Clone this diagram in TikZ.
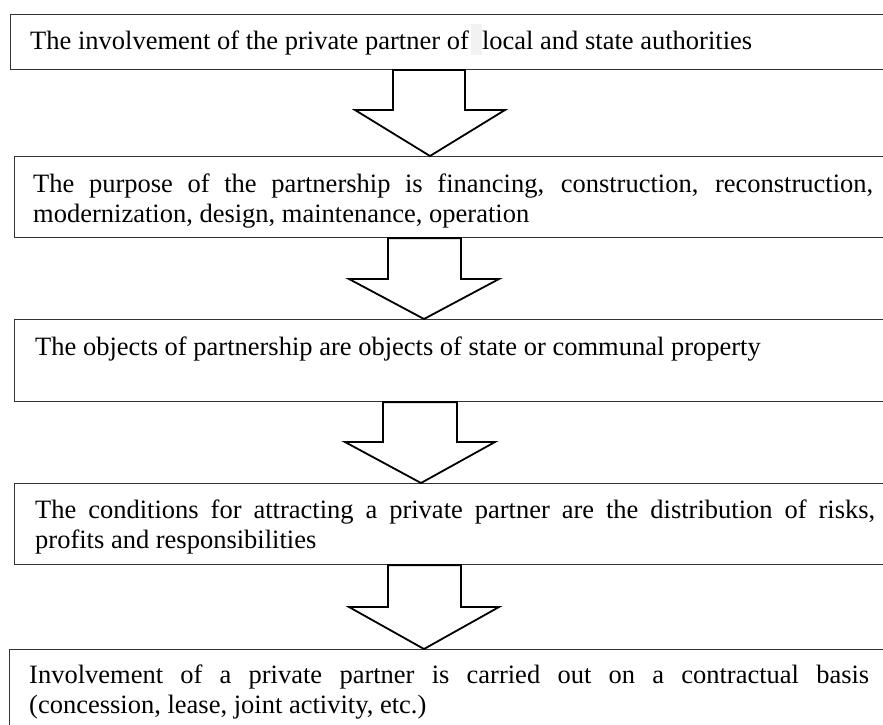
\documentclass[tikz,border=0pt]{standalone}
\usepackage{fontspec}
\setmainfont{Liberation Serif}
\hyphenpenalty=10000
\begin{document}
\begin{tikzpicture}[x=1pt,y=-1pt,
  stage/.style={draw=black!80, line width=1.1pt, inner sep=0pt, anchor=north west, minimum width=880pt},
  caption/.style={inner sep=0pt, anchor=base west, text width=840pt, align=justify,
    font=\fontsize{26.5}{30.5}\selectfont},
  blockarrow/.style={draw=black, line width=1.8pt, fill=white, line join=miter}]
\useasboundingbox (0,0) rectangle (883,725);
\clip (0,0) rectangle (883,725);

% stage frames
\node[stage, minimum height=55pt] (b1) at (10,14) {};
\node[stage, minimum height=81pt] (b2) at (14,156) {};
\node[stage, minimum height=82pt] (b3) at (14,319) {};
\node[stage, minimum height=81pt] (b4) at (14,483) {};
\node[stage, minimum height=95pt] (b5) at (9,649) {};

% highlighted blank in the first line
\fill[gray!10] (471,24) rectangle (482,55);

% stage texts
\node[caption] (t1) at (30,50) {The involvement of the private partner of~ local and state authorities};
\node[caption] (t2) at (33,192) {The purpose of the partnership is financing, construction, reconstruction,\linebreak modernization, design, maintenance, operation};
\node[caption] (t3) at (35,355) {The objects of partnership are objects of state or communal property};
\node[caption] (t4) at (35,518) {The conditions for attracting a private partner are the distribution of risks,\linebreak profits and responsibilities};
\node[caption] (t5) at (29,683) {Involvement of a private partner is carried out on a contractual basis\linebreak (concession, lease, joint activity, etc.)};

% block arrows between stages
\draw[blockarrow] (393,0 |- b1.south) -- (393,110) -- (355,110) -- (430,0 |- b2.north)
  -- (505,110) -- (465,110) -- (465,0 |- b1.south) -- cycle;
\draw[blockarrow] (388,0 |- b2.south) -- (388,279) -- (349,279) -- (424,0 |- b3.north)
  -- (499,279) -- (461,279) -- (461,0 |- b2.south) -- cycle;
\draw[blockarrow] (383,0 |- b3.south) -- (383,442) -- (345,442) -- (421,0 |- b4.north)
  -- (495,442) -- (457,442) -- (457,0 |- b3.south) -- cycle;
\draw[blockarrow] (388,0 |- b4.south) -- (388,607) -- (349,607) -- (424,0 |- b5.north)
  -- (499,607) -- (461,607) -- (461,0 |- b4.south) -- cycle;
\end{tikzpicture}
\end{document}
